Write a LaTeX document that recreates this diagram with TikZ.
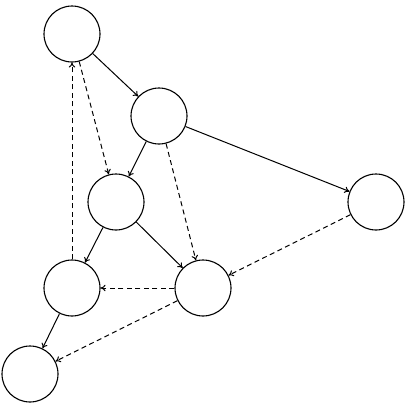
\documentclass[tikz,border=0pt]{standalone}
\usetikzlibrary{arrows.meta}
\begin{document}
\begin{tikzpicture}[x=1pt,y=-1pt,
  vtx/.style={circle,draw,line width=1.1pt,minimum size=56pt,inner sep=0pt},
  solidedge/.style={line width=1pt,-{To[length=5pt,width=6.5pt]}},
  dashedge/.style={line width=1pt,dash pattern=on 5pt off 3.5pt,-{To[length=5pt,width=6.5pt]}}]
\useasboundingbox (0,0) rectangle (405,405);
\node[vtx] (a) at (72,34) {};
\node[vtx] (b) at (159,116) {};
\node[vtx] (c) at (376,202) {};
\node[vtx] (d) at (116,202) {};
\node[vtx] (e) at (72,288) {};
\node[vtx] (f) at (203,288) {};
\node[vtx] (g) at (30,374) {};
\draw[solidedge] (a) -- (b);
\draw[solidedge] (b) -- (d);
\draw[solidedge] (b) -- (c);
\draw[solidedge] (d) -- (e);
\draw[solidedge] (d) -- (f);
\draw[solidedge] (e) -- (g);
\draw[dashedge] (a) -- (d);
\draw[dashedge] (b) -- (f);
\draw[dashedge] (c) -- (f);
\draw[dashedge] (f) -- (e);
\draw[dashedge] (f) -- (g);
\draw[dashedge] (e) -- (a);
\end{tikzpicture}
\end{document}
